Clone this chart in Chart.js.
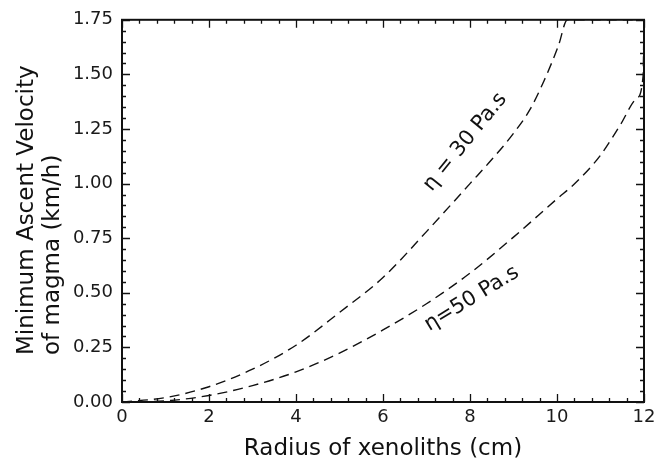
<!DOCTYPE html>
<html>
<head>
<meta charset="utf-8">
<script src="https://cdn.jsdelivr.net/npm/chart.js@4"></script>
<style>
  html, body { margin: 0; padding: 0; background: #fff; }
  #wrap { width: 667px; height: 465px; }
</style>
</head>
<body>
<div id="wrap"><canvas id="myChart" width="667" height="465"></canvas></div>
<script>
// data
const radius30 = [0, 1, 2, 3, 4, 5, 6, 7, 8, 8.5, 9, 9.38, 9.7, 10.03, 10.24, 11, 12];
const velocity30 = [0, 0.02, 0.07, 0.15, 0.26, 0.41, 0.57, 0.78, 1.0, 1.11, 1.23, 1.34, 1.47, 1.63, 1.75, 1.75, 1.75];
const radius50 = [0, 1, 2, 3, 4, 5, 6, 7, 8, 9, 10, 10.41, 11, 11.45, 11.83, 11.98, 12];
const velocity50 = [0, 0.005, 0.03, 0.075, 0.138, 0.224, 0.33, 0.45, 0.59, 0.755, 0.93, 1.0, 1.13, 1.267, 1.39, 1.494, 1.75];
const xTicks = [0, 2, 4, 6, 8, 10, 12];
const yTicks = [0, 0.25, 0.5, 0.75, 1.0, 1.25, 1.5, 1.75];
const yTitle = ["Minimum Ascent Velocity", "of magma (km/h)"];
const curveLabels = [
  { text: "\u03b7 = 30 Pa.s", x: 7.89, y: 1.19, angle: -51 },
  { text: "\u03b7=50 Pa.s", x: 8.04, y: 0.473, angle: -31.5 },
];

const toPoints = (xs, ys) => xs.map((x, i) => ({ x: x, y: ys[i] }));

const FONT = "'DejaVu Sans', sans-serif";

// inward ticks on all four sides, y title (left aligned lines) + curve labels
const frameTicks = {
  id: "frameTicks",
  afterDraw(chart) {
    const ctx = chart.ctx;
    const a = chart.chartArea;
    const xs = chart.scales.x;
    const ys = chart.scales.y;
    ctx.save();
    ctx.strokeStyle = "#111";
    ctx.lineWidth = 1.3;
    ctx.beginPath();
    // x ticks, minor every 0.4
    for (let i = 0; i <= 30; i++) {
      const v = i * 0.4;
      const px = Math.round(xs.getPixelForValue(v)) + 0.5;
      const len = i % 5 === 0 ? 8 : 4;
      ctx.moveTo(px, a.bottom); ctx.lineTo(px, a.bottom - len);
      ctx.moveTo(px, a.top); ctx.lineTo(px, a.top + len);
    }
    // y ticks, minor every 0.05
    for (let i = 0; i <= 35; i++) {
      const v = i * 0.05;
      const py = Math.round(ys.getPixelForValue(v)) + 0.5;
      const len = i % 5 === 0 ? 8 : 4;
      ctx.moveTo(a.left, py); ctx.lineTo(a.left + len, py);
      ctx.moveTo(a.right, py); ctx.lineTo(a.right - len, py);
    }
    ctx.stroke();
    ctx.lineWidth = 2;
    ctx.strokeRect(a.left, a.top, a.right - a.left, a.bottom - a.top);

    ctx.fillStyle = "#111";
    // y axis title, both lines start at the same height
    ctx.font = "23px " + FONT;
    ctx.textAlign = "left";
    ctx.textBaseline = "middle";
    ctx.save();
    ctx.translate(0, a.bottom - 47);
    ctx.rotate(-Math.PI / 2);
    ctx.fillText(yTitle[0], 0, 27);
    ctx.fillText(yTitle[1], 0, 53);
    ctx.restore();

    ctx.font = "21px " + FONT;
    ctx.textAlign = "center";
    curveLabels.forEach((l) => {
      ctx.save();
      ctx.translate(xs.getPixelForValue(l.x), ys.getPixelForValue(l.y));
      ctx.rotate((l.angle * Math.PI) / 180);
      ctx.fillText(l.text, 0, 0);
      ctx.restore();
    });
    ctx.restore();
  },
};

const ctx = document.getElementById("myChart").getContext("2d");
new Chart(ctx, {
  type: "scatter",
  data: {
    datasets: [
      {
        label: "eta 30",
        data: toPoints(radius30, velocity30),
        showLine: true,
        borderColor: "#111",
        borderWidth: 1.4,
        borderDash: [10, 6],
        pointRadius: 0,
        cubicInterpolationMode: "monotone",
      },
      {
        label: "eta 50",
        data: toPoints(radius50, velocity50),
        showLine: true,
        borderColor: "#111",
        borderWidth: 1.4,
        borderDash: [10, 6],
        pointRadius: 0,
        cubicInterpolationMode: "monotone",
      },
    ],
  },
  options: {
    responsive: false,
    animation: false,
    layout: { padding: { top: 13, right: 23, left: 0, bottom: 0 } },
    plugins: {
      legend: { display: false },
      tooltip: { enabled: false },
    },
    scales: {
      x: {
        type: "linear",
        min: 0,
        max: 12,
        afterBuildTicks: (s) => { s.ticks = xTicks.map((v) => ({ value: v })); },
        afterFit: (s) => { s.height = 63; },
        grid: { display: false, drawTicks: false },
        border: { display: false },
        ticks: { color: "#1a1a1a", font: { family: FONT, size: 18 }, padding: 5, maxRotation: 0 },
        title: {
          display: true,
          text: "Radius of xenoliths (cm)",
          color: "#111",
          font: { family: FONT, size: 23 },
          padding: { top: 0, bottom: 2 },
        },
      },
      y: {
        type: "linear",
        min: 0,
        max: 1.75,
        afterBuildTicks: (s) => { s.ticks = yTicks.map((v) => ({ value: v })); },
        afterFit: (s) => { s.width = 122; },
        grid: { display: false, drawTicks: false },
        border: { display: false },
        ticks: {
          color: "#1a1a1a",
          font: { family: FONT, size: 18 },
          padding: 9,
          callback: (v) => v.toFixed(2),
        },
        title: { display: false },
      },
    },
  },
  plugins: [frameTicks],
});
</script>
</body>
</html>
